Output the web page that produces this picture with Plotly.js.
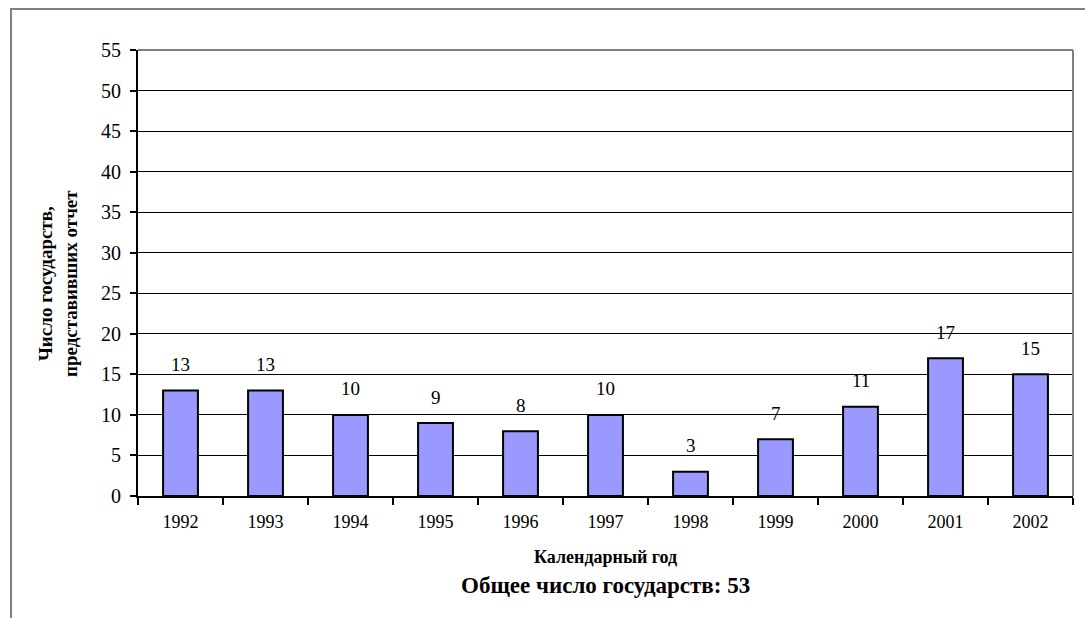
<!DOCTYPE html>
<html>
<head>
<meta charset="utf-8">
<script src="https://cdn.plot.ly/plotly-3.0.1.min.js"></script>
<style>
html,body{margin:0;padding:0;background:#fff;}
#chart{width:1085px;height:618px;}
</style>
</head>
<body>
<div id="chart"></div>
<script>
const years = ['1992','1993','1994','1995','1996','1997','1998','1999','2000','2001','2002'];
const counts = [13, 13, 10, 9, 8, 10, 3, 7, 11, 17, 15];
const yTicks = [0,5,10,15,20,25,30,35,40,45,50,55];
const yTitle = 'Число государств,<br>представивших отчет';
const xTitle = 'Календарный год';
const footNote = 'Общее число государств: 53';

const serif = 'Liberation Serif, Times New Roman, serif';

const trace = {
  type: 'bar',
  x: years,
  y: counts,
  marker: {color: '#9999FF', line: {color: '#000000', width: 2}},
  width: 0.41,
  hoverinfo: 'none'
};

const annotations = years.map((yr, i) => ({
  x: i, y: counts[i], xref: 'x', yref: 'y',
  text: String(counts[i]), showarrow: false,
  yanchor: 'middle', yshift: 26,
  font: {family: serif, size: 19, color: '#000'}
}));
annotations.push({
  xref: 'paper', yref: 'paper', x: 0.5, y: -0.1368,
  xanchor: 'center', yanchor: 'middle',
  text: '<b>' + xTitle + '</b>', showarrow: false,
  font: {family: serif, size: 18, color: '#000'}
});
annotations.push({
  xref: 'paper', yref: 'paper', x: 0.5, y: -0.1996,
  xanchor: 'center', yanchor: 'middle',
  text: '<b>' + footNote + '</b>', showarrow: false,
  font: {family: serif, size: 23, color: '#000'}
});
annotations.push({
  xref: 'paper', yref: 'paper', x: -0.0856, y: 0.4776,
  xanchor: 'center', yanchor: 'middle', textangle: -90,
  text: '<b>' + yTitle + '</b>', showarrow: false,
  font: {family: serif, size: 19, color: '#000'}
});

const layout = {
  width: 1085, height: 618,
  margin: {l: 138, r: 12, t: 50, b: 122},
  paper_bgcolor: '#ffffff',
  plot_bgcolor: '#ffffff',
  showlegend: false,
  xaxis: {
    type: 'category',
    range: [-0.5, 10.5],
    tickson: 'boundaries',
    ticks: 'outside', ticklen: 7, tickwidth: 2, tickcolor: '#000',
    ticklabelstandoff: 8,
    showline: true, linecolor: '#000', linewidth: 2,
    showgrid: false,
    tickangle: 0,
    tickfont: {family: serif, size: 18, color: '#000'}
  },
  yaxis: {
    range: [0, 55],
    tickvals: yTicks,
    ticks: 'outside', ticklen: 6, tickwidth: 2, tickcolor: '#000',
    ticklabelstandoff: 5,
    showline: true, linecolor: '#000', linewidth: 2,
    showgrid: true, gridcolor: '#000', gridwidth: 1,
    zeroline: false,
    tickfont: {family: serif, size: 20, color: '#000'}
  },
  annotations: annotations,
  shapes: [
    {type: 'line', xref: 'paper', yref: 'paper', x0: 0, x1: 1, y0: 1, y1: 1, line: {color: '#808080', width: 2}},
    {type: 'line', xref: 'paper', yref: 'paper', x0: 1, x1: 1, y0: 0, y1: 1, line: {color: '#808080', width: 2}},
    {type: 'rect', xref: 'paper', yref: 'paper', x0: -0.1358, x1: 1.2, y0: -0.5, y1: 1.0919, line: {color: '#808080', width: 2}, fillcolor: 'rgba(0,0,0,0)', layer: 'below'}
  ]
};

Plotly.newPlot('chart', [trace], layout, {staticPlot: true, displayModeBar: false});
</script>
</body>
</html>
